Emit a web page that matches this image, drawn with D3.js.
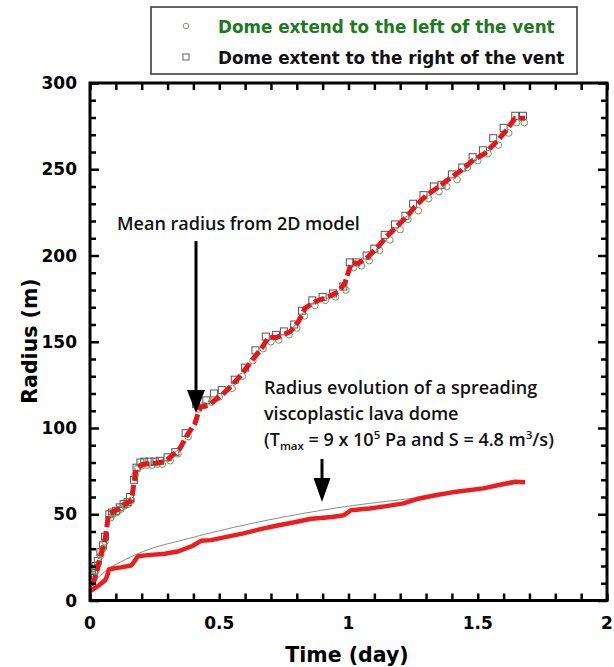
<!DOCTYPE html>
<html><head><meta charset="utf-8">
<script src="https://cdn.jsdelivr.net/npm/d3@7"></script>
<style>body{margin:0;background:#fff}</style>
</head><body>
<svg id="c" width="614" height="667"></svg>
<script>
// ---- data ----
const xTicks = [0, 0.5, 1, 1.5, 2];
const xTickLabels = ["0", "0.5", "1", "1.5", "2"];
const yTicks = [0, 50, 100, 150, 200, 250, 300];
const legendLabels = ["Dome extend to the left of the vent", "Dome extent to the right of the vent"];

// mean radius from 2D model (red dashed)
const meanT = [0.005,0.013,0.025,0.039,0.058,0.067,0.071,0.09,0.11,0.129,0.15,0.161,0.168,0.178,0.19,0.206,0.25,0.29,0.316,0.348,0.374,0.406,0.426,0.458,0.503,0.535,0.58,0.632,0.664,0.69,0.722,0.774,0.806,0.832,0.87,0.922,0.96,0.986,1.002,1.012,1.038,1.07,1.109,1.154,1.193,1.225,1.257,1.302,1.341,1.393,1.438,1.483,1.528,1.573,1.612,1.644,1.683];
const meanR = [9.5,10,16,25,35,44.7,50,51.5,53,55.4,57,58,66,75.7,77.5,79,79.5,80.5,83.9,88.1,95.4,102.7,112.1,113.2,118.4,122.6,129.9,140.2,146.2,152.6,152.5,155.8,161.6,169.4,173.2,176.1,179,183.9,191.6,195.8,195.5,198.4,204.2,211.9,217.7,222.5,228.3,235,239,244.8,249.6,255.4,259.2,266,272.8,279.5,279.5];

// dome extent to the left of the vent (circles)
const leftT = [0.003,0.008,0.015,0.022,0.03,0.04,0.05,0.058,0.08,0.09,0.105,0.12,0.135,0.15,0.16,0.175,0.185,0.2,0.22,0.24,0.26,0.28,0.31,0.34,0.38,0.42,0.44,0.47,0.5,0.55,0.59,0.63,0.67,0.7,0.73,0.77,0.8,0.83,0.87,0.91,0.95,0.99,1.02,1.05,1.08,1.12,1.16,1.2,1.23,1.27,1.31,1.35,1.38,1.42,1.46,1.5,1.54,1.58,1.62,1.65,1.68];
const leftR = [11,12,14,17,21,26,30,34,48,50,51,53,55,56,58,73,77,78,78.5,78.5,79,79,81,85,95,111,113,115,118,123,130,139,146,150,151,154,158,165,171,174,176,180,193,194,197,203,209,215,221,226,233,237,240,244,251,255,259,264,271,277,277];

// dome extent to the right of the vent (squares)
const rightT = [0.003,0.008,0.015,0.022,0.03,0.04,0.05,0.058,0.075,0.085,0.1,0.115,0.13,0.145,0.155,0.17,0.18,0.195,0.21,0.23,0.25,0.27,0.3,0.33,0.37,0.41,0.45,0.48,0.51,0.56,0.6,0.64,0.68,0.72,0.75,0.79,0.82,0.86,0.9,0.94,0.98,1.005,1.03,1.07,1.1,1.14,1.18,1.22,1.25,1.29,1.33,1.36,1.4,1.44,1.48,1.52,1.56,1.6,1.645,1.675];
const rightR = [13,15,17,20,23,28,32,37,50,51,52,54,56,57,60,70,77,80,80.5,80.5,80.5,81,83,86,97,114,116,120,122,128,135,145,153,154,156,160,168,174,176,178,182,196,196,200,204,212,218,223,230,235,240,241,247,251,257,261,268,274,281,281];

// spreading viscoplastic dome, simulated (red solid)
const viscoT = [0,0.007,0.027,0.045,0.06,0.068,0.073,0.1,0.12,0.159,0.172,0.185,0.225,0.29,0.343,0.396,0.429,0.468,0.528,0.594,0.66,0.725,0.791,0.857,0.936,0.982,1.009,1.081,1.147,1.213,1.264,1.341,1.418,1.522,1.599,1.644,1.683];
const viscoR = [5.5,6,8,10,12,15,18,18.8,19.2,20.3,22.7,25.7,26.3,27.1,28.6,31.6,34.6,35,36.9,38.9,41.4,43.5,45.4,47.4,48.4,49.4,52.3,53.3,54.7,56.3,58.8,61.2,63.1,65,67.5,68.9,68.5];

// analytic curve (thin gray)
const analyticT = [0.002,0.014,0.04,0.073,0.133,0.225,0.357,0.488,0.62,0.752,0.884,1.015,1.147,1.28,1.4,1.55,1.68];
const analyticR = [7,10.5,14.5,18.5,23.5,29.5,35,40,44.5,48.5,52,55,57.5,59.8,62.5,65.5,68.3];

// ---- layout ----
const svg = d3.select("#c");
const L = 90, R = 607, T = 83, B = 600.5;
const x = d3.scaleLinear().domain([0, 2]).range([L, R]);
const y = d3.scaleLinear().domain([0, 300]).range([B, T]);
const tickFont = "'DejaVu Sans', Verdana, sans-serif";
const noteFont = "'Open Sans', Calibri, sans-serif";

// clip
svg.append("clipPath").attr("id","clip").append("rect")
  .attr("x", L).attr("y", T).attr("width", R-L).attr("height", B-T);
const g = svg.append("g").attr("clip-path","url(#clip)");

const line = d3.line().x(d => x(d[0])).y(d => y(d[1]));

// analytic thin gray
g.append("path").datum(analyticT.map((t,i)=>[t, analyticR[i]]))
  .attr("d", d3.line().x(d=>x(d[0])).y(d=>y(d[1])).curve(d3.curveMonotoneX))
  .attr("fill","none").attr("stroke","#8a8a8a").attr("stroke-width",1);

// red solid
g.append("path").datum(viscoT.map((t,i)=>[t, viscoR[i]]))
  .attr("d", line).attr("fill","none").attr("stroke","#ee1c1c")
  .attr("stroke-width",4.5).attr("stroke-linejoin","round");

// markers
g.selectAll("rect.sq").data(rightT.map((t,i)=>[t,rightR[i]])).join("rect")
  .attr("class","sq").attr("x", d=>x(d[0])-3.5).attr("y", d=>y(d[1])-3.5)
  .attr("width",7).attr("height",7).attr("fill","none").attr("stroke","#555").attr("stroke-width",1);
g.selectAll("circle.ci").data(leftT.map((t,i)=>[t,leftR[i]])).join("circle")
  .attr("class","ci").attr("cx", d=>x(d[0])).attr("cy", d=>y(d[1])).attr("r",3.3)
  .attr("fill","none").attr("stroke","#5f9f5f").attr("stroke-width",1);

// red dashed mean
g.append("path").datum(meanT.map((t,i)=>[t, meanR[i]]))
  .attr("d", line).attr("fill","none").attr("stroke","#e8141c")
  .attr("stroke-width",5).attr("stroke-dasharray","11,4");

// ---- axes ----
const frame = svg.append("g");
function ticks(axisGen, transform, vals, size){
  frame.append("g").attr("transform", transform)
    .call(axisGen.tickValues(vals).tickSize(size).tickFormat(""))
    .call(s => { s.select(".domain").remove(); s.selectAll("line").attr("stroke","#000").attr("stroke-width",2.5); });
}
const xMinor = d3.range(0, 21).map(i => i/10);
const yMinor = d3.range(0, 31).map(i => i*10).filter(v => v%50 !== 0);
ticks(d3.axisBottom(x), `translate(0,${B})`, xMinor, -7);
ticks(d3.axisTop(x), `translate(0,${T})`, xMinor, -7);
ticks(d3.axisLeft(y), `translate(${L},0)`, yMinor, -6);
ticks(d3.axisLeft(y), `translate(${L},0)`, yTicks, -9);
ticks(d3.axisRight(y), `translate(${R},0)`, yMinor, -6);
ticks(d3.axisRight(y), `translate(${R},0)`, yTicks, -9);

frame.append("rect").attr("x",L).attr("y",T).attr("width",R-L).attr("height",B-T)
  .attr("fill","none").attr("stroke","#000").attr("stroke-width",3);

// tick labels
svg.append("g").selectAll("text").data(xTicks).join("text")
  .attr("x", d=>x(d)).attr("y", 629).attr("text-anchor","middle")
  .attr("font-family", tickFont).attr("font-weight","bold").attr("font-size",17)
  .text((d,i)=>xTickLabels[i]);
svg.append("g").selectAll("text").data(yTicks).join("text")
  .attr("x", 77).attr("y", d=>y(d)+6).attr("text-anchor","end")
  .attr("font-family", tickFont).attr("font-weight","bold").attr("font-size",17)
  .text(d=>d);

// axis titles
svg.append("text").attr("x", 347).attr("y", 662).attr("text-anchor","middle")
  .attr("font-family", tickFont).attr("font-weight","bold").attr("font-size",20.5)
  .text("Time (day)");
svg.append("text").attr("transform", `translate(37,341) rotate(-90)`).attr("text-anchor","middle")
  .attr("font-family", tickFont).attr("font-weight","bold").attr("font-size",20.5)
  .text("Radius (m)");

// ---- legend ----
const lg = svg.append("g");
lg.append("rect").attr("x",151).attr("y",7).attr("width",426).attr("height",67)
  .attr("fill","#fff").attr("stroke","#333").attr("stroke-width",1.5);
lg.append("circle").attr("cx",186).attr("cy",26).attr("r",2.8).attr("fill","none").attr("stroke","#6aa86a").attr("stroke-width",1);
lg.append("rect").attr("x",183).attr("y",54).attr("width",6).attr("height",6).attr("fill","none").attr("stroke","#666").attr("stroke-width",1);
lg.append("text").attr("x",218).attr("y",33).attr("font-family",tickFont).attr("font-weight","bold")
  .attr("font-size",16.8).attr("fill","#1e7a1e").text(legendLabels[0]);
lg.append("text").attr("x",218).attr("y",64).attr("font-family",tickFont).attr("font-weight","bold")
  .attr("font-size",16.8).attr("fill","#111").text(legendLabels[1]);

// ---- annotations ----
const an = svg.append("g").attr("font-family", noteFont).attr("font-weight",600).attr("fill","#111");
an.append("text").attr("x",117).attr("y",230).attr("font-size",18).text("Mean radius from 2D model");
function arrow(xc, y0, y1, y2, hw){
  an.append("line").attr("x1",xc).attr("x2",xc).attr("y1",y0).attr("y2",y1+1).attr("stroke","#000").attr("stroke-width",3);
  an.append("path").attr("d",`M${xc-hw},${y1}L${xc+hw},${y1}L${xc},${y2}Z`).attr("fill","#000");
}
arrow(196, 241, 390, 413, 9);
const t2 = an.append("g").attr("font-size",18);
t2.append("text").attr("x",264).attr("y",394).text("Radius evolution of a spreading");
t2.append("text").attr("x",264).attr("y",420).text("viscoplastic lava dome");
const t3 = t2.append("text").attr("x",264).attr("y",446);
t3.append("tspan").text("(T");
t3.append("tspan").attr("font-size",11.5).attr("dy",4).text("max");
t3.append("tspan").attr("dy",-4).text(" = 9 x 10");
t3.append("tspan").attr("font-size",11.5).attr("dy",-7).text("5");
t3.append("tspan").attr("dy",7).text(" Pa and S = 4.8 m");
t3.append("tspan").attr("font-size",11.5).attr("dy",-7).text("3");
t3.append("tspan").attr("dy",7).text("/s)");
arrow(322, 459, 478, 502, 8.5);
</script>
</body></html>
